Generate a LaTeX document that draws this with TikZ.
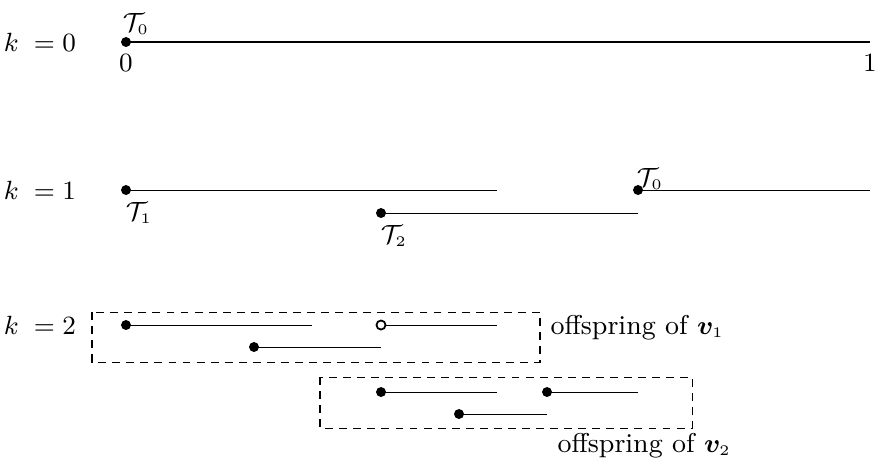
\documentclass[tikz,border=0pt]{standalone}
\usepackage{bm}
\newcommand{\tsub}[1]{_{\scriptscriptstyle #1}}
\begin{document}
\begin{tikzpicture}[x=0.3415pt,y=-0.3415pt,
  font=\fontsize{9.3pt}{11pt}\selectfont,
  dotnode/.style={circle,fill=black,inner sep=0pt,minimum size=3.4pt},
  opendot/.style={circle,draw=black,fill=white,line width=0.6pt,inner sep=0pt,minimum size=3.1pt},
  seg/.style={line width=0.35pt},
  grpbox/.style={draw,dash pattern=on 2.7pt off 2.1pt,line width=0.35pt},
  lbl/.style={inner sep=0pt}]
\useasboundingbox (0,0) rectangle (878,465);
% row labels
\node[lbl] (k0) at (40,42) {$k\;= 0$};
\node[lbl] (k1) at (40,190) {$k\;= 1$};
\node[lbl] (k2) at (40,325) {$k\;= 2$};
% row 0
\coordinate (s0) at (126,42);
\coordinate (e0) at (870,42);
\draw[seg] (s0) -- (e0);
\node[dotnode] (d0) at (s0) {};
\node[lbl] (t0a) at (136,24) {$\mathcal{T}\tsub{0}$};
\node[lbl] (z0) at (126,63) {$0$};
\node[lbl] (z1) at (870,63) {$1$};
% row 1
\coordinate (s11) at (126,190);
\coordinate (s12) at (381,213);
\coordinate (s13) at (638,190);
\coordinate (e11) at (497,190);
\coordinate (e12) at (638,213);
\coordinate (e13) at (870,190);
\draw[seg] (s11) -- (e11);
\draw[seg] (s12) -- (e12);
\draw[seg] (s13) -- (e13);
\node[dotnode] (d11) at (s11) {};
\node[dotnode] (d12) at (s12) {};
\node[dotnode] (d13) at (s13) {};
\node[lbl] (t1) at (139,213) {$\mathcal{T}\tsub{1}$};
\node[lbl] (t2) at (394,236) {$\mathcal{T}\tsub{2}$};
\node[lbl] (t0b) at (650,179) {$\mathcal{T}\tsub{0}$};
% row 2, box 1
\draw[grpbox] (92,312) rectangle (540,362);
\coordinate (s21) at (126,325);
\coordinate (s22) at (381,325);
\coordinate (s23) at (254,347);
\coordinate (e21) at (312,325);
\coordinate (e22) at (497,325);
\coordinate (e23) at (381,347);
\draw[seg] (s21) -- (e21);
\draw[seg] (s22) -- (e22);
\draw[seg] (s23) -- (e23);
\node[dotnode] (d21) at (s21) {};
\node[opendot] (d22) at (s22) {};
\node[dotnode] (d23) at (s23) {};
\node[lbl,anchor=west] (off1) at (550,328) {offspring of $\bm{v}\tsub{1}$};
% box 2
\draw[grpbox] (320,377) rectangle (692,428);
\coordinate (s31) at (381,392);
\coordinate (s32) at (547,392);
\coordinate (s33) at (459,414);
\coordinate (e31) at (497,392);
\coordinate (e32) at (638,392);
\coordinate (e33) at (547,414);
\draw[seg] (s31) -- (e31);
\draw[seg] (s32) -- (e32);
\draw[seg] (s33) -- (e33);
\node[dotnode] (d31) at (s31) {};
\node[dotnode] (d32) at (s32) {};
\node[dotnode] (d33) at (s33) {};
\node[lbl,anchor=west] (off2) at (557,446) {offspring of $\bm{v}\tsub{2}$};
\end{tikzpicture}
\end{document}
